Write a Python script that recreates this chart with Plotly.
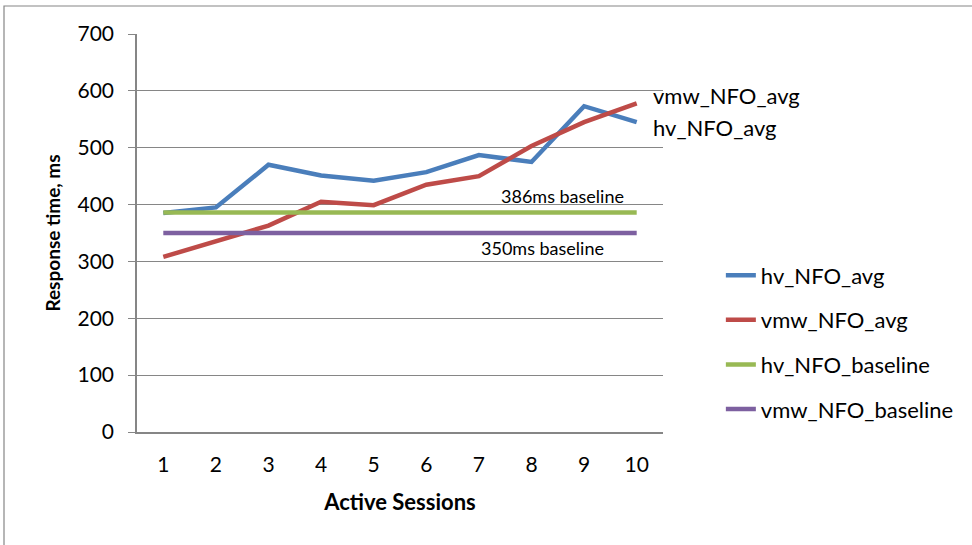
import plotly.graph_objects as go

sessions = [1, 2, 3, 4, 5, 6, 7, 8, 9, 10]
hv_avg = [385, 395, 470, 451, 442, 457, 487, 475, 573, 545]
vmw_avg = [308, 336, 363, 405, 399, 435, 450, 503, 545, 578]
hv_baseline = [386, 386, 386, 386, 386, 386, 386, 386, 386, 386]
vmw_baseline = [350, 350, 350, 350, 350, 350, 350, 350, 350, 350]
y_ticks = [0, 100, 200, 300, 400, 500, 600, 700]

FONT = "Lato, Carlito, Calibri, sans-serif"
colors = {"hv_NFO_avg": "#4A7EBB", "vmw_NFO_avg": "#BE4B48",
          "hv_NFO_baseline": "#98B954", "vmw_NFO_baseline": "#7D60A0"}

fig = go.Figure()
series = [("hv_NFO_avg", hv_avg), ("vmw_NFO_avg", vmw_avg),
          ("hv_NFO_baseline", hv_baseline), ("vmw_NFO_baseline", vmw_baseline)]
for name, vals in series:
    fig.add_trace(go.Scatter(
        x=[str(s) for s in sessions], y=vals, name=name, mode="lines",
        line=dict(color=colors[name], width=4.5), legendgroup=name,
    ))

fig.update_layout(
    width=972, height=545,
    margin=dict(l=137, r=309, t=34, b=113),
    paper_bgcolor="white", plot_bgcolor="white",
    font=dict(family=FONT, size=21, color="#000000"),
    showlegend=True,
    legend=dict(x=1.11, xanchor="left", y=0.225, yanchor="middle",
                tracegroupgap=13, font=dict(size=22, family=FONT),
                bgcolor="rgba(0,0,0,0)", itemwidth=30),
    xaxis=dict(
        type="category", range=[-0.5, 9.5], showgrid=False, showline=True,
        linecolor="#868686", linewidth=1.5, ticks="", ticklabelstandoff=13,
        tickfont=dict(size=21, family=FONT),
        title=dict(text="<b>Active Sessions</b>", font=dict(size=22, family=FONT), standoff=20),
        fixedrange=True,
    ),
    yaxis=dict(
        range=[0, 700], tickvals=y_ticks, showgrid=True, gridcolor="#868686",
        gridwidth=1, showline=True, linecolor="#868686", linewidth=1.5,
        ticks="outside", ticklen=7, tickcolor="#868686", ticklabelstandoff=10,
        tickfont=dict(size=21, family=FONT), zeroline=False,
        title=dict(text="<b>Response time, ms</b>", font=dict(size=19, family=FONT), standoff=12),
    ),
)

# Outer chart border
fig.add_shape(type="rect", xref="paper", yref="paper",
              x0=(4 - 137) / 526, x1=(990 - 137) / 526,
              y0=(432 - 560) / 398, y1=(432 - 6) / 398,
              line=dict(color="#868686", width=1.2), fillcolor="rgba(0,0,0,0)",
              layer="below")

fig.add_annotation(x=7.58, y=415, xref="x", yref="y", text="386ms baseline",
                   showarrow=False, font=dict(size=18, family=FONT))
fig.add_annotation(x=7.2, y=324, xref="x", yref="y", text="350ms baseline",
                   showarrow=False, font=dict(size=18, family=FONT))
fig.add_annotation(x=9, y=vmw_avg[-1], xref="x", yref="y", text="vmw_NFO_avg",
                   showarrow=False, xanchor="left", xshift=14, yshift=8,
                   font=dict(size=22, family=FONT))
fig.add_annotation(x=9, y=hv_avg[-1], xref="x", yref="y", text="hv_NFO_avg",
                   showarrow=False, xanchor="left", xshift=14, yshift=-5,
                   font=dict(size=22, family=FONT))

fig.write_html("out.html")
